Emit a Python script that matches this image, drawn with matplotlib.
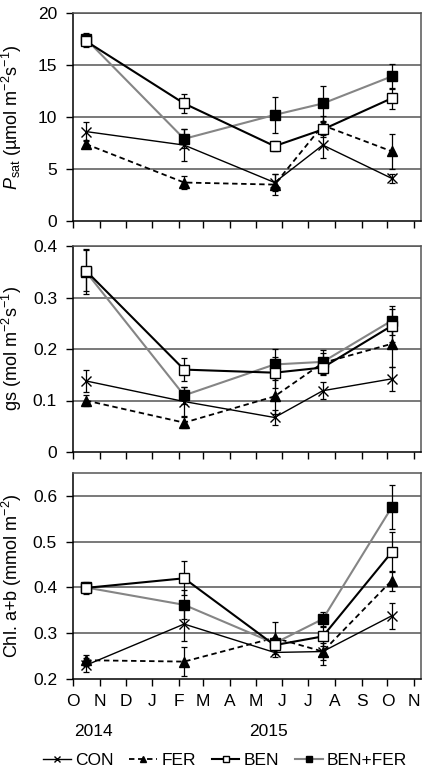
import matplotlib
matplotlib.use("Agg")
import matplotlib.pyplot as plt
from matplotlib.lines import Line2D
import datetime as dt

plt.rcParams['font.family'] = ['Liberation Sans', 'DejaVu Sans']
plt.rcParams['mathtext.fontset'] = 'custom'
plt.rcParams['mathtext.rm'] = 'Liberation Sans'
plt.rcParams['mathtext.it'] = 'Liberation Sans:italic'

# sampling dates
dates = [dt.date(2014, 10, 16), dt.date(2015, 2, 7), dt.date(2015, 5, 23),
         dt.date(2015, 7, 18), dt.date(2015, 10, 6)]
groups = ['CON', 'FER', 'BEN', 'BEN+FER']

# Psat (umol m-2 s-1)
psat = {
    'CON':     [8.6, 7.3, 3.7, 7.3, 4.1],
    'FER':     [7.4, 3.7, 3.5, 9.2, 6.7],
    'BEN':     [17.3, 11.3, 7.2, 8.8, 11.8],
    'BEN+FER': [17.5, 7.9, 10.2, 11.3, 13.9],
}
psat_err = {
    'CON':     [0.9, 1.5, 0.8, 1.2, 0.4],
    'FER':     [0.4, 0.6, 1.0, 0.9, 1.7],
    'BEN':     [0.6, 0.9, 0.5, 0.7, 1.0],
    'BEN+FER': [0.6, 0.9, 1.7, 1.7, 1.2],
}

# gs (mol m-2 s-1)
gs = {
    'CON':     [0.138, 0.098, 0.067, 0.119, 0.142],
    'FER':     [0.100, 0.057, 0.108, 0.173, 0.210],
    'BEN':     [0.352, 0.160, 0.154, 0.164, 0.245],
    'BEN+FER': [0.350, 0.110, 0.170, 0.175, 0.255],
}
gs_err = {
    'CON':     [0.021, 0.029, 0.014, 0.016, 0.023],
    'FER':     [0.010, 0.010, 0.035, 0.020, 0.045],
    'BEN':     [0.040, 0.023, 0.030, 0.015, 0.032],
    'BEN+FER': [0.044, 0.016, 0.030, 0.024, 0.028],
}

# Chl a+b (mmol m-2)
chl = {
    'CON':     [0.230, 0.320, 0.258, 0.260, 0.338],
    'FER':     [0.241, 0.238, 0.290, 0.260, 0.415],
    'BEN':     [0.399, 0.420, 0.274, 0.293, 0.477],
    'BEN+FER': [0.400, 0.362, 0.278, 0.331, 0.575],
}
chl_err = {
    'CON':     [0.015, 0.037, 0.010, 0.018, 0.029],
    'FER':     [0.012, 0.032, 0.035, 0.030, 0.022],
    'BEN':     [0.013, 0.037, 0.010, 0.020, 0.044],
    'BEN+FER': [0.010, 0.032, 0.010, 0.015, 0.048],
}

month_letters = ['O', 'N', 'D', 'J', 'F', 'M', 'A', 'M', 'J', 'J', 'A', 'S', 'O', 'N']
month_ticks = [dt.date(2014 + (9 + i) // 12, (9 + i) % 12 + 1, 1) for i in range(14)]

styles = {
    'CON':     dict(color='black', lw=1.0, ls='-', marker='x', mfc='black', mec='black', ms=7, mew=1.0),
    'FER':     dict(color='black', lw=1.3, ls=(0, (3, 2)), marker='^', mfc='black', mec='black', ms=7),
    'BEN':     dict(color='black', lw=1.5, ls='-', marker='s', mfc='white', mec='black', ms=7, mew=1.0),
    'BEN+FER': dict(color='#858585', lw=1.5, ls='-', marker='s', mfc='black', mec='black', ms=7),
}
draw_order = ['CON', 'FER', 'BEN+FER', 'BEN']

W, H = 429, 773
fig = plt.figure(figsize=(W / 100, H / 100), dpi=100)

panels = [
    (psat, psat_err, (0, 20), [0, 5, 10, 15, 20], ['0', '5', '10', '15', '20'],
     r'$P_{\mathrm{sat}}$ (µmol m$^{-2}$s$^{-1}$)', (13, 221)),
    (gs, gs_err, (0, 0.4), [0, 0.1, 0.2, 0.3, 0.4], ['0', '0.1', '0.2', '0.3', '0.4'],
     r'gs (mol m$^{-2}$s$^{-1}$)', (246, 452)),
    (chl, chl_err, (0.2, 0.65), [0.2, 0.3, 0.4, 0.5, 0.6], ['0.2', '0.3', '0.4', '0.5', '0.6'],
     r'Chl. a+b (mmol m$^{-2}$)', (473, 679)),
]

left, right = 73, 421
xmin, xmax = dt.date(2014, 10, 1), dt.date(2015, 11, 9)

for k, (vals, errs, ylim, yt, ytl, ylab, (top, bot)) in enumerate(panels):
    ax = fig.add_axes([left / W, 1 - bot / H, (right - left) / W, (bot - top) / H])
    for yv in yt[1:]:
        ax.axhline(yv, color='#555555', lw=1.1, zorder=0)
    for g in draw_order:
        st = styles[g]
        ax.errorbar(dates, vals[g], yerr=errs[g], fmt='none', ecolor='black',
                    elinewidth=0.9, capsize=2.5, capthick=0.9, zorder=2)
        ax.plot(dates, vals[g], zorder=3, **st)
    ax.set_xlim(xmin, xmax)
    ax.set_ylim(*ylim)
    ax.set_yticks(yt)
    ax.set_yticklabels(ytl, fontsize=12.5)
    ax.set_xticks(month_ticks)
    if k == 2:
        ax.set_xticklabels(month_letters, fontsize=12.5)
    else:
        ax.set_xticklabels([])
    ax.tick_params(axis='both', direction='out', length=5, width=1, color='black')
    ax.tick_params(axis='y', pad=6.5)
    ax.tick_params(axis='x', pad=6)
    ax.spines['left'].set_color('black')
    ax.spines['bottom'].set_color('black')
    ax.spines['top'].set_color('#555555')
    ax.spines['right'].set_color('#555555')
    for s in ax.spines.values():
        s.set_linewidth(1.1)
    ax.set_ylabel(ylab, fontsize=13)
    ax.yaxis.set_label_coords(-0.142, 0.5)

fig.text(93 / W, 1 - 732 / H, '2014', ha='center', va='center', fontsize=12.5)
fig.text(268 / W, 1 - 732 / H, '2015', ha='center', va='center', fontsize=12.5)

handles = []
for g in groups:
    st = dict(styles[g])
    st['ms'] = 5
    handles.append(Line2D([], [], **st))
fig.legend(handles, groups, loc='center', bbox_to_anchor=(0.525, 1 - 760 / H), ncol=4,
           frameon=False, fontsize=12.5, handlelength=1.6, handletextpad=0.25,
           columnspacing=0.9, borderaxespad=0)

fig.savefig('out.png', dpi=100)
